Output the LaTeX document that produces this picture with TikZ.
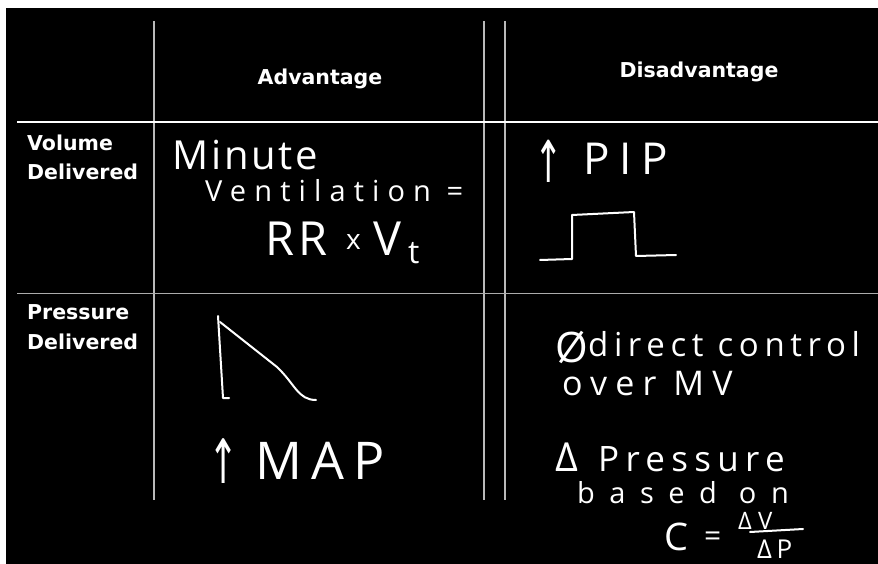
\documentclass[tikz,border=0pt]{standalone}
\usepackage{fontspec}
\newfontfamily\hdr{DejaVu Sans}
\newfontfamily\hand{Open Sans}
\newfontfamily\sym{DejaVu Sans}
\tikzset{
  grid/.style={draw=gray!55!white, line width=1.3pt},
  hline/.style={draw=white, line width=2.6pt},
  thin/.style={draw=gray!65!white, line width=1pt},
  head/.style={text=white, font=\hdr\bfseries\fontsize{20.5}{24}\selectfont, inner sep=0pt},
  hw/.style={text=white, inner sep=0pt, anchor=base west},
  pen/.style={draw=white, line width=2pt, line cap=round, line join=round},
}
\newcommand{\hsz}[2]{\hand\fontsize{#1}{#1}\selectfont\addfontfeature{LetterSpace=#2}}
\newcommand{\uparr}[1]{\sym\fontsize{#1}{#1}\selectfont\scalebox{1}[1.7]{↑}}
\begin{document}
\begin{tikzpicture}[x=1pt,y=-1pt]
\useasboundingbox (0,0) rectangle (878,564);
\fill[white] (0,0) rectangle (878,564);
\fill[black] (6,8) rectangle (878,564);
% grid
\coordinate (v1t) at (154,21); \coordinate (v1b) at (154,500);
\coordinate (v2t) at (484,21); \coordinate (v2b) at (484,500);
\coordinate (v3t) at (505,21); \coordinate (v3b) at (505,500);
\coordinate (h1l) at (17,122); \coordinate (h1r) at (878,122);
\coordinate (h2l) at (17,293); \coordinate (h2r) at (878,293);
\draw[grid] (v1t) -- (v1b);
\draw[grid] (v2t) -- (v2b);
\draw[grid] (v3t) -- (v3b);
\draw[hline] (h1l) -- (h1r);
\draw[thin] (h2l) -- (h2r);
% headers
\node[head, anchor=base] (adv) at (320,85) {Advantage};
\node[head, anchor=base] (dis) at (699,78) {Disadvantage};
\node[head, anchor=base west] (vol) at (27,151) {Volume};
\node[head, anchor=base west] (vdel) at (27,180) {Delivered};
\node[head, anchor=base west] (pre) at (27,319) {Pressure};
\node[head, anchor=base west] (pdel) at (27,349) {Delivered};
% volume / advantage
\node[hw] (minute) at (172,170) {\hsz{40}{7}Minute};
\node[hw] (vent) at (205,202) {\hsz{29}{28}Ventilation =};
\node[hw] (rr) at (265,255) {\hsz{47}{10}RR};
\node[hw] (times) at (346,250) {\hsz{28}{0}x};
\node[hw] (vee) at (373,255) {\hsz{47}{0}V};
\node[hw] (tee) at (408,263) {\hsz{32}{0}t};
% volume / disadvantage
\node[hw] (uppip) at (534,183) {\uparr{34}};
\node[hw] (pip) at (583,175) {\hsz{44}{22}PIP};
\draw[pen] (540,260) -- (572,259) -- (572,215) -- (634,212) -- (636,256) -- (676,255);
% pressure / advantage
\draw[pen] (218,316) -- (223,398) -- (229,398);
\draw[pen] (220,322) -- (277,367) .. controls (295,384) and (298,400) .. (316,400);
\node[hw] (upmap) at (208,483) {\uparr{36}};
\node[hw] (map) at (255,479) {\hsz{52}{18}MAP};
% pressure / disadvantage
\node[hw] (null) at (555,362) {\hsz{42}{0}Ø};
\node[hw] (direct) at (588,356) {\hsz{33}{17}direct control};
\node[hw] (over) at (562,395) {\hsz{34}{24}over MV};
\node[hw] (delta) at (555,471) {\hsz{40}{0}Δ};
\node[hw] (press) at (598,471) {\hsz{35}{18}Pressure};
\node[hw] (based) at (577,503) {\hsz{29}{50}based on};
\node[hw] (cee) at (664,550) {\hsz{38}{0}C};
\node[hw] (eq) at (704,546) {\hsz{30}{0}=};
\node[hw] (dv) at (738,529) {\hsz{24}{26}ΔV};
\draw[pen] (750,532) -- (803,529);
\node[hw] (dp) at (757,558) {\hsz{26}{18}ΔP};
\end{tikzpicture}
\end{document}
